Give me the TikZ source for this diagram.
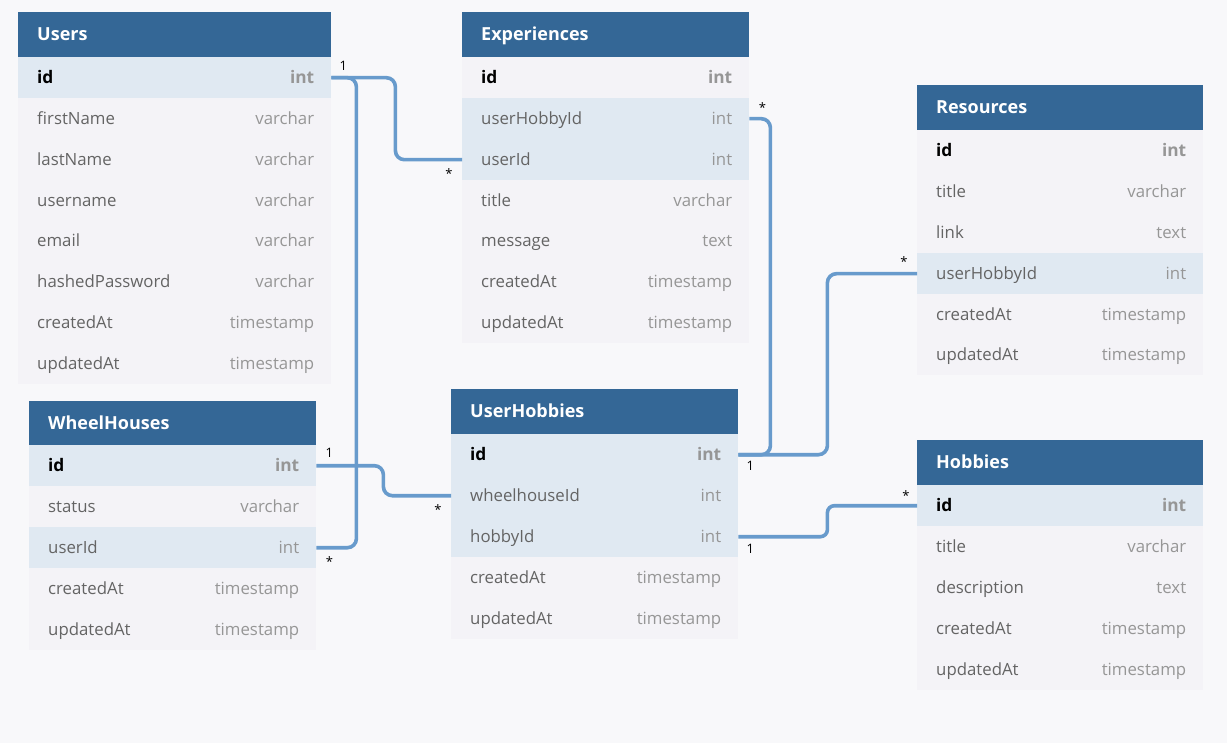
\documentclass[tikz,border=0pt]{standalone}
\usepackage{fontspec}
\setmainfont{Open Sans}
\usetikzlibrary{calc}
\definecolor{pagebg}{RGB}{248,248,250}
\definecolor{rowbg}{RGB}{244,243,247}
\definecolor{hlbg}{RGB}{224,233,242}
\definecolor{hdrbg}{RGB}{52,103,150}
\definecolor{fieldcol}{RGB}{100,100,100}
\definecolor{typecol}{RGB}{150,150,150}
\definecolor{linkcol}{RGB}{104,155,204}
\tikzset{
  rowbox/.style={rectangle, draw=none, minimum height=41pt, inner sep=0pt, fill=rowbg},
  hlrow/.style={rowbox, fill=hlbg},
  hdrbox/.style={rectangle, draw=none, minimum height=45pt, inner sep=0pt, fill=hdrbg},
  hdrtxt/.style={inner sep=0pt, text=white, font=\fontsize{18}{21}\selectfont\bfseries},
  fieldtxt/.style={inner sep=0pt, text=fieldcol, font=\fontsize{16.8}{20}\selectfont},
  typetxt/.style={inner sep=0pt, text=typecol, font=\fontsize{16.8}{20}\selectfont},
  idtxt/.style={inner sep=0pt, text=black, font=\fontsize{17.3}{20}\selectfont\bfseries},
  idtype/.style={inner sep=0pt, text=typecol, font=\fontsize{17.3}{20}\selectfont\bfseries},
  link/.style={draw=linkcol, line width=3.6pt, rounded corners=9pt},
  card/.style={inner sep=0pt, text=black, font=\fontsize{13}{15}\selectfont},
}
% #1 style, #2 name, #3 x, #4 y, #5 width, #6 field, #7 type
\newcommand\dbrow[7][rowbox]{%
  \node[#1, minimum width=#5, anchor=north west] (#2) at (#3,#4) {};
  \node[fieldtxt, anchor=mid west] (#2-f) at ($(#2.west)+(19,3)$) {#6};
  \node[typetxt, anchor=mid east] (#2-t) at ($(#2.east)+(-17,3)$) {#7};
}
\newcommand\dbid[5][rowbox]{%
  \node[#1, minimum width=#5, anchor=north west] (#2) at (#3,#4) {};
  \node[idtxt, anchor=mid west] (#2-f) at ($(#2.west)+(19,3)$) {id};
  \node[idtype, anchor=mid east] (#2-t) at ($(#2.east)+(-17,3)$) {int};
}
% #1 name, #2 x, #3 y, #4 width, #5 title
\newcommand\dbhead[5]{%
  \node[hdrbox, minimum width=#4, anchor=north west] (#1) at (#2,#3) {};
  \node[hdrtxt, anchor=mid west] (#1-title) at ($(#1.west)+(19,3)$) {#5};
}
\begin{document}
\begin{tikzpicture}[x=1pt, y=-1pt]
\fill[pagebg] (0,0) rectangle (1227,743);
\useasboundingbox (0,0) rectangle (1227,743);

% Users
\dbhead{users}{18}{12}{313pt}{Users}
\dbid[hlrow]{u-id}{18}{57}{313pt}
\dbrow{u-fn}{18}{98}{313pt}{firstName}{varchar}
\dbrow{u-ln}{18}{139}{313pt}{lastName}{varchar}
\dbrow{u-un}{18}{180}{313pt}{username}{varchar}
\dbrow{u-em}{18}{220}{313pt}{email}{varchar}
\dbrow{u-pw}{18}{261}{313pt}{hashedPassword}{varchar}
\dbrow{u-ca}{18}{302}{313pt}{createdAt}{timestamp}
\dbrow{u-ua}{18}{343}{313pt}{updatedAt}{timestamp}

% Experiences
\dbhead{exp}{462}{12}{287pt}{Experiences}
\dbid{e-id}{462}{57}{287pt}
\dbrow[hlrow]{e-uh}{462}{98}{287pt}{userHobbyId}{int}
\dbrow[hlrow]{e-u}{462}{139}{287pt}{userId}{int}
\dbrow{e-ti}{462}{180}{287pt}{title}{varchar}
\dbrow{e-me}{462}{220}{287pt}{message}{text}
\dbrow{e-ca}{462}{261}{287pt}{createdAt}{timestamp}
\dbrow{e-ua}{462}{302}{287pt}{updatedAt}{timestamp}

% Resources
\dbhead{res}{917}{85}{286pt}{Resources}
\dbid{r-id}{917}{130}{286pt}
\dbrow{r-ti}{917}{171}{286pt}{title}{varchar}
\dbrow{r-li}{917}{212}{286pt}{link}{text}
\dbrow[hlrow]{r-uh}{917}{253}{286pt}{userHobbyId}{int}
\dbrow{r-ca}{917}{294}{286pt}{createdAt}{timestamp}
\dbrow{r-ua}{917}{334}{286pt}{updatedAt}{timestamp}

% WheelHouses
\dbhead{wh}{29}{401}{287pt}{WheelHouses}
\dbid[hlrow]{w-id}{29}{445}{287pt}
\dbrow{w-st}{29}{486}{287pt}{status}{varchar}
\dbrow[hlrow]{w-u}{29}{527}{287pt}{userId}{int}
\dbrow{w-ca}{29}{568}{287pt}{createdAt}{timestamp}
\dbrow{w-ua}{29}{609}{287pt}{updatedAt}{timestamp}

% UserHobbies
\dbhead{uh}{451}{389}{287pt}{UserHobbies}
\dbid[hlrow]{h-id}{451}{434}{287pt}
\dbrow[hlrow]{h-wh}{451}{475}{287pt}{wheelhouseId}{int}
\dbrow[hlrow]{h-hb}{451}{516}{287pt}{hobbyId}{int}
\dbrow{h-ca}{451}{557}{287pt}{createdAt}{timestamp}
\dbrow{h-ua}{451}{598}{287pt}{updatedAt}{timestamp}

% Hobbies
\dbhead{hob}{917}{440}{286pt}{Hobbies}
\dbid[hlrow]{b-id}{917}{485}{286pt}
\dbrow{b-ti}{917}{526}{286pt}{title}{varchar}
\dbrow{b-de}{917}{567}{286pt}{description}{text}
\dbrow{b-ca}{917}{608}{286pt}{createdAt}{timestamp}
\dbrow{b-ua}{917}{649}{286pt}{updatedAt}{timestamp}

% connectors
\draw[link] (u-id.east) -- ($(u-id.east)+(64,0)$) |- (e-u.west);
\draw[link] (u-id.east) -- ($(u-id.east)+(25,0)$) |- (w-u.east);
\draw[link] (w-id.east) -- ($(w-id.east)+(67,0)$) |- (h-wh.west);
\draw[link] (h-id.east) -- ($(h-id.east)+(32,0)$) |- (e-uh.east);
\draw[link] (h-id.east) -- ($(h-id.east)+(89,0)$) |- (r-uh.west);
\draw[link, rounded corners=7pt] (h-hb.east) -- ($(h-hb.east)+(89,0)$) |- (b-id.west);

% cardinalities
\node[card] (c1) at ($(u-id.east)+(12,-12)$) {1};
\node[card] (c2) at ($(e-u.west)+(-13,14)$) {*};
\node[card] (c3) at ($(w-u.east)+(13,14)$) {*};
\node[card] (c4) at ($(w-id.east)+(13,-13)$) {1};
\node[card] (c5) at ($(h-wh.west)+(-13,14)$) {*};
\node[card] (c6) at ($(e-uh.east)+(13,-11)$) {*};
\node[card] (c7) at ($(h-id.east)+(12,11)$) {1};
\node[card] (c8) at ($(r-uh.west)+(-13,-12)$) {*};
\node[card] (c9) at ($(h-hb.east)+(12,12)$) {1};
\node[card] (c10) at ($(b-id.west)+(-11,-10)$) {*};
\end{tikzpicture}
\end{document}
